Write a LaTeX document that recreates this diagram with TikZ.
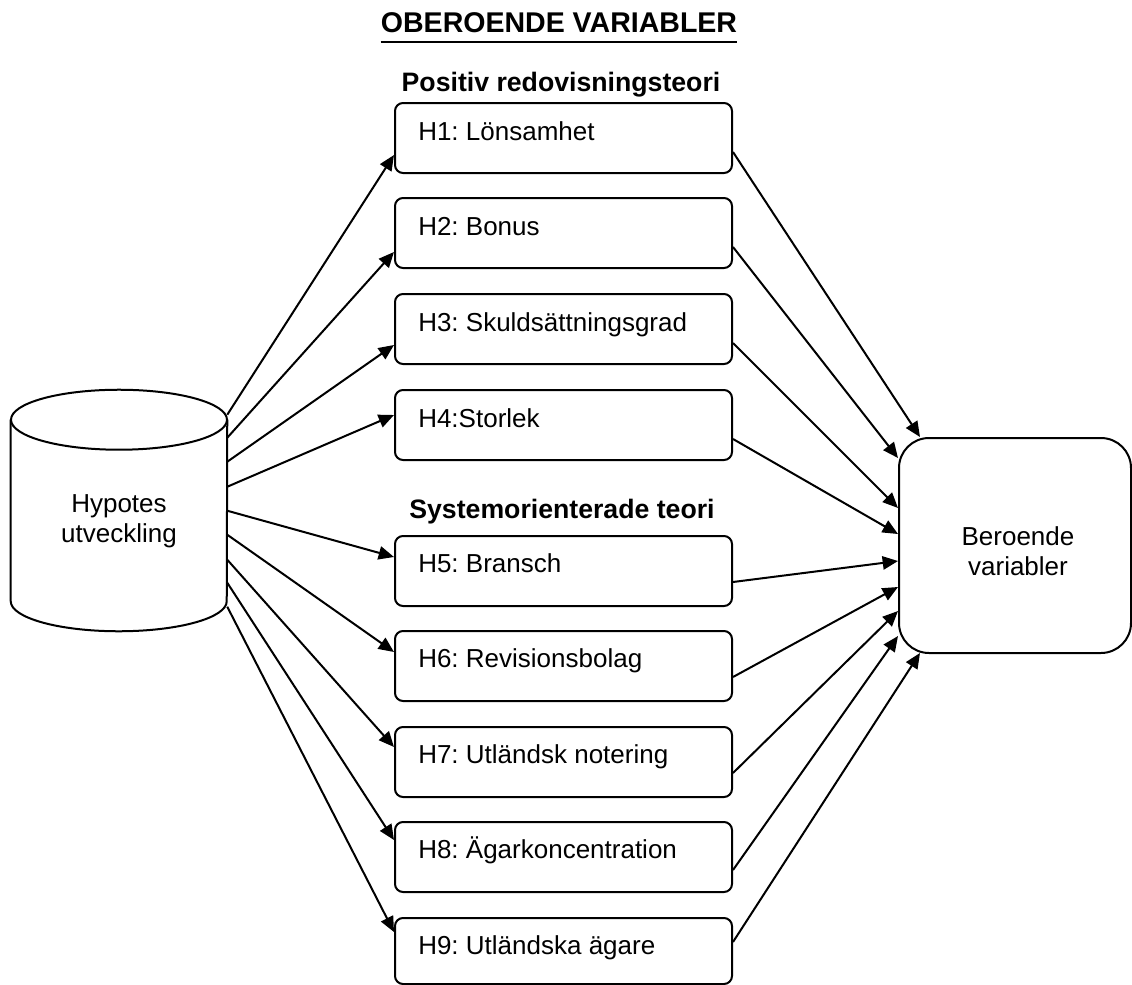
\documentclass[tikz,border=0pt]{standalone}
\usepackage{fontspec}
\setmainfont{Liberation Sans}
\usetikzlibrary{arrows.meta,calc}
\frenchspacing
\begin{document}
\begin{tikzpicture}[x=0.75pt,y=-0.75pt,
  shp/.style={draw=black, line width=1.5pt},
  hbox/.style={shp, rounded corners=6pt, minimum width=252.75pt, minimum height=52.5pt, inner sep=0pt},
  lbl/.style={anchor=base west, inner sep=0pt, font=\fontsize{19.5pt}{22.5pt}\selectfont},
  ctext/.style={anchor=base, align=center, inner sep=0pt, font=\fontsize{19.5pt}{22.5pt}\selectfont},
  head/.style={anchor=base, inner sep=0pt, font=\bfseries\fontsize{20pt}{24pt}\selectfont},
  arr/.style={line width=1.5pt, -{Triangle[length=11.5pt,width=10pt]}},
]
\useasboundingbox (0,0) rectangle (1132,985);

% headings
\node[head, font=\bfseries\fontsize{21.4pt}{26pt}\selectfont] (title) at (559,32) {OBEROENDE VARIABLER};
\draw[line width=2pt] ($(title.base west)+(0,10)$) -- ($(title.base east)+(0,10)$);
\node[head] (pos) at (561,91) {Positiv redovisningsteori};
\node[head] (sys) at (562,518) {Systemorienterade teori};

% hypothesis boxes
\node[hbox] (h1) at (563.5,138) {};
\node[hbox] (h2) at (563.5,233) {};
\node[hbox] (h3) at (563.5,329) {};
\node[hbox] (h4) at (563.5,425) {};
\node[hbox] (h5) at (563.5,571) {};
\node[hbox] (h6) at (563.5,666) {};
\node[hbox] (h7) at (563.5,762) {};
\node[hbox] (h8) at (563.5,857) {};
\node[hbox, minimum height=49.5pt] (h9) at (563.5,951) {};

\node[lbl] (t1) at ($(h1.north west)+(24,38)$) {H1: Lönsamhet};
\node[lbl] (t2) at ($(h2.north west)+(24,38)$) {H2: Bonus};
\node[lbl] (t3) at ($(h3.north west)+(24,38)$) {H3: Skuldsättningsgrad};
\node[lbl] (t4) at ($(h4.north west)+(24,38)$) {H4:Storlek};
\node[lbl] (t5) at ($(h5.north west)+(24,37)$) {H5: Bransch};
\node[lbl] (t6) at ($(h6.north west)+(24,37)$) {H6: Revisionsbolag};
\node[lbl] (t7) at ($(h7.north west)+(24,37)$) {H7: Utländsk notering};
\node[lbl] (t8) at ($(h8.north west)+(24,37)$) {H8: Ägarkoncentration};
\node[lbl] (t9) at ($(h9.north west)+(24,37)$) {H9: Utländska ägare};

% cylinder
\node[minimum width=162pt, minimum height=180.75pt, inner sep=0pt] (cyl) at (119,510.5) {};
\draw[shp] ($(cyl.north west)+(0,30)$) -- ($(cyl.south west)+(0,-30)$)
  arc[start angle=180, end angle=360, x radius=81pt, y radius=22.5pt]
  -- ($(cyl.north east)+(0,30)$);
\draw[shp] ($(cyl.north)+(0,30)$) ellipse[x radius=81pt, y radius=22.5pt];
\node[ctext] (hyptxt) at (119,542) {Hypotes\\utveckling};

% dependent variable box
\node[shp, rounded corners=22.5pt, minimum width=174pt, minimum height=161.25pt, inner sep=0pt] (ber) at (1015,545.5) {};
\node[ctext] (bertxt) at (1018,575) {Beroende\\variabler};

% arrows from cylinder
\draw[arr] ($(cyl.north east)+(0,25)$) -- ($(h1.west)+(0,17)$);
\draw[arr] ($(cyl.north east)+(0,48)$) -- ($(h2.west)+(0,19)$);
\draw[arr] ($(cyl.north east)+(0,72)$) -- ($(h3.west)+(0,16)$);
\draw[arr] ($(cyl.north east)+(0,97)$) -- ($(h4.west)+(0,-10)$);
\draw[arr] ($(cyl.north east)+(0,121)$) -- ($(h5.west)+(0,-14)$);
\draw[arr] ($(cyl.north east)+(0,145)$) -- ($(h6.west)+(0,-14)$);
\draw[arr] ($(cyl.north east)+(0,170)$) -- ($(h7.west)+(0,-15)$);
\draw[arr] ($(cyl.north east)+(0,193)$) -- ($(h8.west)+(0,-17)$);
\draw[arr] ($(cyl.north east)+(0,217)$) -- ($(h9.west)+(0,-19)$);

% arrows to dependent variables
\draw[arr] ($(h1.east)+(0,14)$) -- ($(ber.north west)+(22,0)$);
\draw[arr] ($(h2.east)+(0,14)$) -- ($(ber.west)+(0,-87.5)$);
\draw[arr] ($(h3.east)+(0,14)$) -- ($(ber.west)+(0,-37.5)$);
\draw[arr] ($(h4.east)+(0,14)$) -- ($(ber.west)+(0,-11.5)$);
\draw[arr] ($(h5.east)+(0,11)$) -- ($(ber.west)+(0,15.5)$);
\draw[arr] ($(h6.east)+(0,11)$) -- ($(ber.west)+(0,41.5)$);
\draw[arr] ($(h7.east)+(0,11)$) -- ($(ber.west)+(0,65.5)$);
\draw[arr] ($(h8.east)+(0,13)$) -- ($(ber.west)+(0,90.5)$);
\draw[arr] ($(h9.east)+(0,-9)$) -- ($(ber.south west)+(22,-1)$);
\end{tikzpicture}
\end{document}
